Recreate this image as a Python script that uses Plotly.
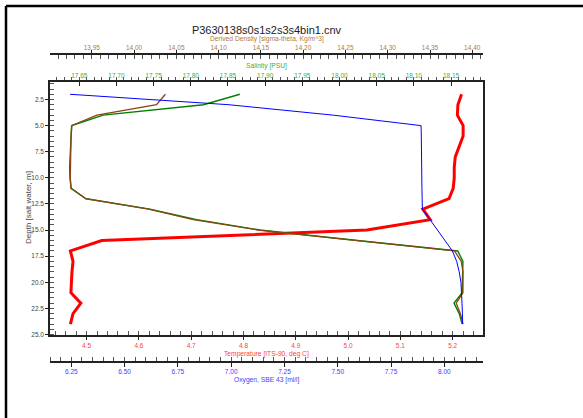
import plotly.graph_objects as go

# ---- data ----
depth = [2, 3, 4, 5, 6, 7, 8, 9, 10, 11, 12, 13, 14, 15, 16, 17, 18, 19, 20, 21, 22, 23, 24]
temperature = [5.217, 5.210, 5.209, 5.220, 5.220, 5.212, 5.205, 5.203, 5.203, 5.201, 5.193,
               5.143, 5.157, 5.036, 4.529, 4.469, 4.474, 4.472, 4.471, 4.470, 4.489, 4.474, 4.469]
oxygen = [6.244, 6.990, 7.479, 7.891, 7.892, 7.892, 7.893, 7.893, 7.894, 7.895, 7.896,
          7.897, 7.933, 7.969, 8.005, 8.038, 8.058, 8.070, 8.078, 8.082, 8.083, 8.085, 8.086]
salinity = [17.866, 17.817, 17.682, 17.640, 17.639, 17.638, 17.6375, 17.637, 17.6375, 17.639, 17.659,
            17.745, 17.808, 17.893, 18.024, 18.159, 18.166, 18.166, 18.166, 18.165, 18.154, 18.161, 18.165]
density = [14.037, 14.0265, 13.956, 13.926, 13.9254, 13.925, 13.9245, 13.9243, 13.9245, 13.9254, 13.943,
           14.017, 14.070, 14.147, 14.262, 14.379, 14.387, 14.389, 14.389, 14.389, 14.381, 14.386, 14.389]

title_text = "P3630138s0s1s2s3s4bin1.cnv"
temp_label = "Temperature [ITS-90, deg C]"
oxy_label = "Oxygen, SBE 43 [ml/l]"
sal_label = "Salinity [PSU]"
dens_label = "Derived Density [sigma-theta, Kg/m^3]"
depth_label = "Depth [salt water, m]"

# ---- layout geometry (pixels) ----
W, H = 583, 418
L, R = 50, 483          # plot area left/right
PT, PB = 54, 362        # paper top (density axis line) / bottom (oxygen axis line)
BOX_T, BOX_B = 82, 334.5


def py(p):  # pixel y -> paper y
    return (PB - p) / (PB - PT)


def px(p):  # pixel x -> paper x
    return (p - L) / (R - L)


FONT = "Liberation Sans, Arial, sans-serif"
TICKF = 6.5

fig = go.Figure()
fig.add_trace(go.Scatter(x=density, y=depth, xaxis="x3", yaxis="y", mode="lines",
                         line=dict(color="#8b4513", width=1.3), showlegend=False))
fig.add_trace(go.Scatter(x=salinity, y=depth, xaxis="x2", yaxis="y", mode="lines",
                         line=dict(color="#008000", width=1.4), showlegend=False))
fig.add_trace(go.Scatter(x=oxygen, y=depth, xaxis="x4", yaxis="y", mode="lines",
                         line=dict(color="#0000ff", width=1), showlegend=False))
fig.add_trace(go.Scatter(x=temperature, y=depth, xaxis="x", yaxis="y", mode="lines",
                         line=dict(color="#ff0000", width=3), showlegend=False))


def axis_common(color, dtick, mdtick, fmt, rng, major, minor, mlen, nlen, standoff):
    return dict(range=rng, dtick=dtick, tickformat=fmt, ticks=major, ticklen=mlen,
                tickcolor="#222", tickwidth=1, showline=True, linecolor="#222", linewidth=1.5,
                showgrid=False, zeroline=False, automargin=False, ticklabelstandoff=standoff,
                tickfont=dict(size=TICKF, color=color, family=FONT),
                minor=dict(dtick=mdtick, ticks=minor, ticklen=nlen, tickcolor="#555", showgrid=False))


ydom = [py(BOX_B), py(BOX_T)]

fig.update_layout(
    width=W, height=H,
    margin=dict(l=L, r=W - R, t=PT, b=H - PB, pad=0, autoexpand=False),
    paper_bgcolor="white", plot_bgcolor="white",
    font=dict(family=FONT),
    title=dict(text=title_text, x=(L + R) / 2 / W, xanchor="center", y=1 - 30 / H, yanchor="middle",
               font=dict(size=11, color="#222", family=FONT)),
    xaxis=dict(anchor="y", side="bottom",
               **axis_common("#ff4040", 0.1, 0.02, ".1f", [4.430, 5.258], "outside", "inside", 4, 4, 0)),
    xaxis2=dict(anchor="y", side="top", overlaying="x",
                **axis_common("#40b040", 0.05, 0.01, ".2f", [17.6106, 18.193], "inside", "outside", 4, 3, 0)),
    xaxis3=dict(anchor="free", position=1, side="top", overlaying="x",
                **axis_common("#b07a40", 0.05, 0.01, ".2f", [13.9005, 14.4127], "outside", "inside", 3, 4, -2)),
    xaxis4=dict(anchor="free", position=0, side="bottom", overlaying="x",
                **axis_common("#4040ff", 0.25, 0.05, ".2f", [6.150, 8.1815], "outside", "inside", 4, 4, -1)),
    yaxis=dict(domain=ydom, range=[25, 0.824], dtick=2.5, tickformat=".1f", ticks="outside", ticklen=3,
               tickcolor="#222", showline=True, linecolor="#222", linewidth=1.5, mirror=True,
               showgrid=False, zeroline=False, automargin=False,
               tickfont=dict(size=TICKF, color="#444", family=FONT),
               minor=dict(dtick=0.5, ticks="inside", ticklen=4, tickcolor="#555", showgrid=False)),
)

ann = [
    (temp_label, "#ff4040", 353.5),
    (oxy_label, "#4040ff", 380.0),
    (dens_label, "#b07a40", 39.0),
    (sal_label, "#40b040", 66.0),
]
for txt, col, ypix in ann:
    fig.add_annotation(text=txt, xref="paper", yref="paper", x=0.5, y=py(ypix),
                       xanchor="center", yanchor="middle", showarrow=False,
                       font=dict(size=6.7, color=col, family=FONT))
fig.add_annotation(text=depth_label, xref="paper", yref="paper", x=px(28), y=py(208),
                   xanchor="center", yanchor="middle", showarrow=False, textangle=-90,
                   font=dict(size=8, color="#444", family=FONT))

# outer frame (top and left edges)
fig.add_shape(type="line", xref="paper", yref="paper", x0=px(6), x1=px(600), y0=py(6), y1=py(6),
              line=dict(color="black", width=2.5))
fig.add_shape(type="line", xref="paper", yref="paper", x0=px(6), x1=px(6), y0=py(6), y1=py(430),
              line=dict(color="black", width=2.5))

fig.write_html("out.html", config={"displayModeBar": False},
               post_script="document.body.style.margin='0px';")
